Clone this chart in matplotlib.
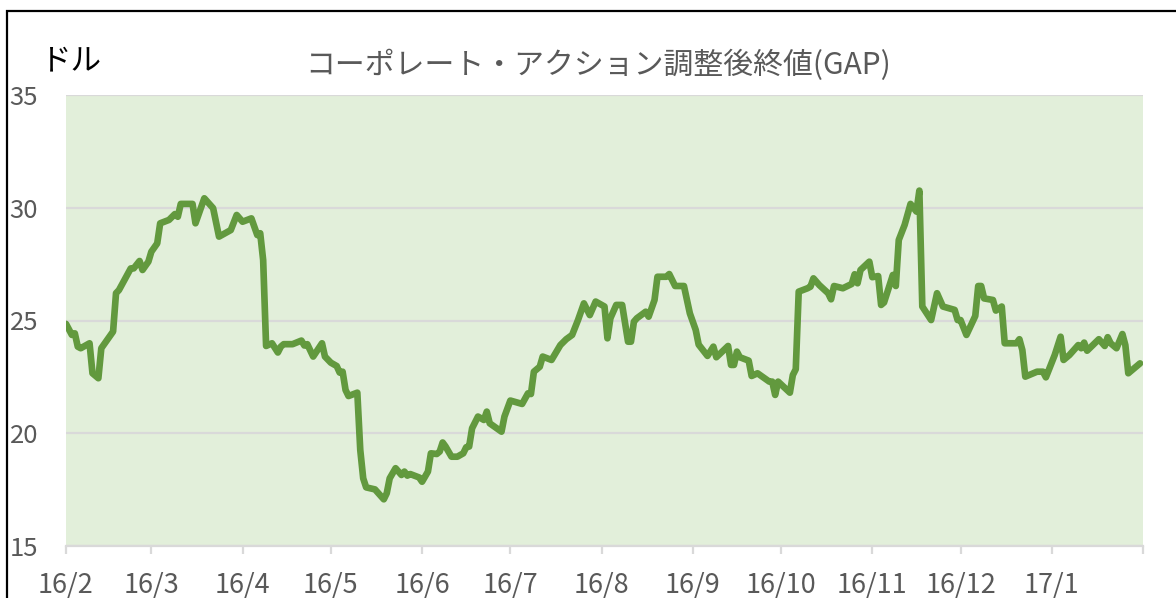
import matplotlib
matplotlib.use("Agg")
import matplotlib.pyplot as plt
import matplotlib.dates as mdates
from matplotlib.patches import Rectangle
import pandas as pd

plt.rcParams['font.family'] = ['Noto Sans CJK JP', 'DejaVu Sans']

title = "コーポレート・アクション調整後終値(GAP)"
unit_label = "ドル"
start_date = "2016-02-01"
end_date = "2017-02-01"

# days since 2016-02-01
days = [0, 2, 3, 4, 5, 8, 9, 11, 12, 16, 17, 18, 22, 23, 25, 26, 28, 29, 31, 32,
        35, 37, 38, 39, 43, 44, 47, 50, 52, 56, 58, 60, 63, 65, 66, 67, 68, 70,
        72, 73, 74, 77, 80, 81, 82, 84, 87, 88, 90, 92, 93, 94, 95, 96, 99, 100,
        101, 102, 105, 108, 109, 110, 112, 114, 115, 116, 117, 120, 121, 123, 124,
        126, 127, 128, 129, 131, 133, 135, 136, 137, 138, 140, 142, 143, 144,
        148, 149, 151, 155, 157, 158, 159, 161, 162, 165, 168, 170, 172, 174,
        176, 178, 180, 183, 184, 185, 187, 189, 191, 192, 193, 194, 197, 198,
        200, 201, 204, 205, 207, 210, 212, 214, 215, 218, 220, 221, 225, 226,
        227, 228, 229, 232, 233, 235, 239, 240, 241, 242, 246, 247, 248, 249,
        252, 253, 254, 256, 259, 260, 261, 264, 267, 268, 269, 270, 273, 274,
        276, 277, 278, 281, 282, 283, 285, 287, 289, 290, 291, 294, 296, 298,
        302, 303, 304, 306, 309, 310, 311, 312, 315, 316, 318, 319, 323, 324,
        325, 326, 330, 332, 333, 336, 338, 339, 341, 344, 345, 346, 347, 351,
        353, 354, 355, 357, 359, 360, 361, 365]

close = [24.85, 24.36, 24.43, 23.84, 23.77, 23.99, 22.66, 22.44, 23.77, 24.51,
         26.21, 26.35, 27.31, 27.31, 27.64, 27.24, 27.61, 28.05, 28.42, 29.31,
         29.46, 29.72, 29.60, 30.17, 30.17, 29.31, 30.42, 29.98, 28.72, 29.01,
         29.68, 29.38, 29.53, 28.79, 28.87, 27.68, 23.87, 23.99,
         23.58, 23.84, 23.95, 23.95, 24.11, 23.89, 23.95, 23.40, 23.99, 23.40,
         23.13, 22.98, 22.69, 22.73, 21.92, 21.65, 21.80, 19.26,
         18.00, 17.60, 17.51, 17.07, 17.34, 18.00, 18.45, 18.15, 18.30, 18.12,
         18.19, 18.04, 17.85, 18.30, 19.11,
         19.08, 19.19, 19.59, 19.41, 18.96, 18.96, 19.11, 19.38, 19.41, 20.22,
         20.74, 20.59, 20.96, 20.44,
         20.07, 20.74, 21.45, 21.30, 21.77, 21.74, 22.73, 22.95, 23.40, 23.25,
         23.91, 24.17, 24.36, 25.02,
         25.76, 25.24, 25.84, 25.62, 24.21, 25.10, 25.69, 25.69, 24.06, 24.06,
         24.95, 25.10, 25.39, 25.17,
         25.91, 26.94, 26.94, 27.06, 26.53, 26.53, 25.32, 24.58, 23.93, 23.43,
         23.84, 23.37, 23.87, 23.03,
         23.03, 23.62, 23.37, 23.22, 22.54, 22.66, 22.29, 22.29, 21.70, 22.29,
         21.80, 22.58, 22.84, 26.28,
         26.43, 26.50, 26.87, 26.57, 26.21, 25.94, 26.53, 26.43, 26.62, 27.05,
         26.65, 27.24, 27.61, 26.92,
         26.97, 25.69, 25.80, 27.02, 26.53, 28.57, 29.24, 30.17, 29.83, 30.76,
         25.62, 25.02, 26.21, 25.62,
         25.47, 25.02, 25.02, 24.36, 25.20, 26.53, 26.53, 25.98, 25.91, 25.44,
         25.62, 23.99, 23.99, 24.17,
         23.69, 22.51, 22.73, 22.73, 22.48, 23.47, 24.28, 23.25, 23.47, 23.91,
         23.77, 24.02, 23.66, 24.17,
         23.87, 24.26, 23.99, 23.77, 24.40, 23.91, 22.66, 23.10]

yticks = [15, 20, 25, 30, 35]
xtick_months = pd.date_range("2016-02-01", "2017-01-01", freq="MS")
xtick_labels = ["16/2", "16/3", "16/4", "16/5", "16/6", "16/7", "16/8",
                "16/9", "16/10", "16/11", "16/12", "17/1"]

dates = pd.Timestamp(start_date) + pd.to_timedelta(days, unit="D")

fig = plt.figure(figsize=(11.76, 5.98), dpi=100)
ax = fig.add_axes([66/1176, 1-546/598, (1143-66)/1176, (546-95)/598])

ax.set_facecolor("#E2EFDA")
ax.plot(dates, close, color="#62993E", linewidth=4.8,
        solid_joinstyle="round", solid_capstyle="round", zorder=3)

ax.set_xlim(pd.Timestamp(start_date), pd.Timestamp(end_date))
ax.set_ylim(15, 35)
ax.set_yticks(yticks)
ax.yaxis.grid(True, color="#D9D9D9", linewidth=1.6, zorder=1)
ax.set_axisbelow(True)

xt = list(xtick_months) + [pd.Timestamp(end_date)]
ax.set_xticks(xt)
ax.set_xticklabels(xtick_labels + [""])

for s in ["left", "right", "top"]:
    ax.spines[s].set_visible(False)
ax.spines["bottom"].set_color("#D9D9D9")
ax.spines["bottom"].set_linewidth(1.6)

ax.tick_params(axis="x", length=6, width=1.6, color="#D9D9D9",
               labelsize=19.5, labelcolor="#595959", pad=13)
ax.tick_params(axis="y", length=0, labelsize=18.5, labelcolor="#595959", pad=40.5)
for lab in ax.get_yticklabels():
    lab.set_ha("left")

fig.text(598/1176, 1-65/598, title, ha="center", va="center",
         fontsize=21.5, color="#595959")
fig.text(41/1176, 1-61/598, unit_label, ha="left", va="center",
         fontsize=22, color="black")

border = Rectangle((7/1176, -0.2), 1.2, 1-11/598+0.2, transform=fig.transFigure,
                   fill=False, edgecolor="black", linewidth=1.6)
fig.patches.append(border)

fig.savefig("out.png", dpi=100)
